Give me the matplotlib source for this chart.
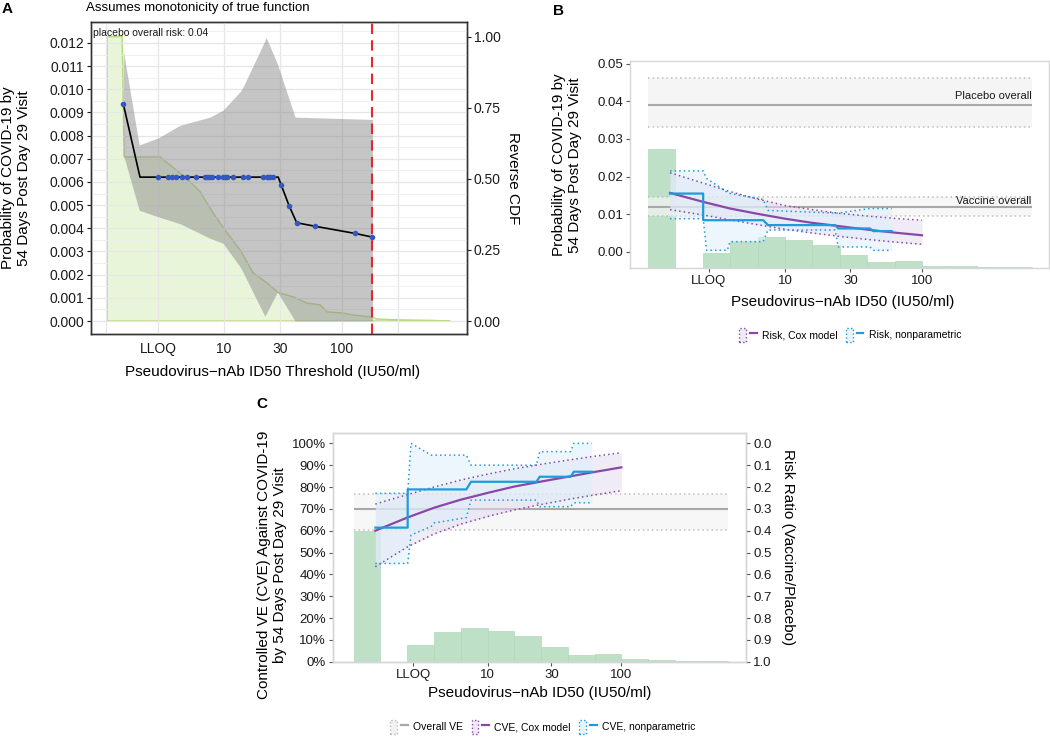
import numpy as np
import matplotlib
matplotlib.use('Agg')
import matplotlib.pyplot as plt
from matplotlib.patches import Patch
from matplotlib.lines import Line2D
from matplotlib.legend_handler import HandlerTuple
from matplotlib.ticker import FixedLocator, NullLocator, FormatStrFormatter, FuncFormatter

plt.rcParams['font.family'] = ['Liberation Sans', 'DejaVu Sans']

# ---------------- data ----------------
LLOQ = 2.78
x_tick_values = [LLOQ, 10, 30, 100]
x_tick_labels = ['LLOQ', '10', '30', '100']
x_grid_a = [1, LLOQ, 10, 30, 100, 300]

# Panel A: threshold risk curve (monotone)
thr_a = [1.40, 1.94, 2.77, 3.37, 3.61, 3.92, 4.38, 4.83, 5.79, 6.91, 7.22, 7.50,
         7.87, 8.95, 9.75, 10.2, 10.5, 12.0, 14.4, 16.1, 21.5, 23.0, 23.7, 24.5,
         25.9, 28.8, 30.4, 35.7, 41.3, 59.0, 129, 181]
risk_a = [0.00938, 0.00621, 0.00621, 0.00621, 0.00621, 0.00621, 0.00621, 0.00621,
          0.00621, 0.00621, 0.00621, 0.00621, 0.00621, 0.00621, 0.00621, 0.00621,
          0.00621, 0.00621, 0.00621, 0.00621, 0.00621, 0.00621, 0.00621, 0.00621,
          0.00621, 0.00621, 0.00589, 0.00496, 0.00424, 0.00409, 0.00378, 0.00362]
corner_idx_a = [1, 25]  # line vertices without a point

band_x_a = [1.40, 1.91, 2.76, 4.24, 7.6, 9.8, 13.7, 14.5, 22.2, 22.7, 28.3, 40.0, 181]
band_hi_a = [0.01168, 0.0076, 0.0079, 0.00845, 0.0088, 0.0091, 0.0099, 0.0101,
             0.0121, 0.01225, 0.0111, 0.0088, 0.0087]
band_lo_a = [0.0072, 0.00478, 0.0045, 0.0042, 0.00357, 0.00336, 0.00233, 0.0021,
             0.0002, 0.0003, 0.00125, 0.0, 0.0]

cdf_x = [1.02, 1.37, 1.42, 2.87, 3.70, 4.86, 6.26, 8.07, 10.6, 13.7, 17.6, 23.1,
         28.7, 38.5, 50.5, 65.1, 74.6, 102, 124, 179, 198, 310, 590, 822]
cdf_y = [1.0, 1.0, 0.577, 0.577, 0.54, 0.50, 0.455, 0.38, 0.31, 0.25, 0.17, 0.134,
         0.10, 0.085, 0.063, 0.057, 0.032, 0.028, 0.021, 0.014, 0.007, 0.004, 0.002, 0.0]
threshold_max = 181
placebo_risk_text = 'placebo overall risk: 0.04'

# Histogram of marker distribution (shared by B and C)
hist_log_edges = [0.0, 0.2, 0.4, 0.6, 0.8, 1.0, 1.2, 1.4, 1.6, 1.8, 2.0, 2.2, 2.4, 2.6, 2.8]
hist_pct = [59.8, 0.0, 7.6, 13.7, 15.6, 14.0, 11.8, 6.7, 3.1, 3.5, 1.2, 0.8, 0.3, 0.3]

# Overall references
overall_x = [1.0, 631.0]
placebo_risk, placebo_lo, placebo_hi = 0.0391, 0.0332, 0.0462
vaccine_risk, vaccine_lo, vaccine_hi = 0.0119, 0.00955, 0.0146
overall_ve, overall_ve_lo, overall_ve_hi = 69.8, 60.3, 76.6

# Cox model
cox_x = [1.45, 2.51, 3.98, 6.31, 10.0, 15.8, 25.1, 39.8, 63.1, 100.0]
cox_risk = [0.01565, 0.0133, 0.0115, 0.0101, 0.0088, 0.0077, 0.0068, 0.0059, 0.0051, 0.0044]
cox_risk_hi = [0.0210, 0.0183, 0.0160, 0.0140, 0.0123, 0.0112, 0.0102, 0.0095, 0.0089, 0.0084]
cox_risk_lo = [0.0112, 0.0098, 0.0085, 0.0072, 0.0060, 0.0050, 0.0041, 0.0033, 0.0026, 0.0020]
cox_cve = [60.0, 66.0, 70.5, 74.2, 77.3, 80.2, 82.5, 84.7, 86.9, 89.0]
cox_cve_hi = [72.2, 76.5, 80.0, 83.2, 85.9, 88.3, 90.4, 92.3, 94.1, 95.7]
cox_cve_lo = [43.5, 52.5, 58.5, 63.0, 66.5, 69.5, 72.0, 74.3, 76.4, 78.3]

# Nonparametric
np_x = [1.45, 2.53, 2.53, 6.94, 7.52, 23.2, 24.5, 41.7, 44.1, 60.1]
np_risk = [0.01548, 0.01548, 0.0084, 0.0084, 0.0071, 0.0071, 0.0062, 0.0062, 0.0055, 0.0055]
np_cve = [61.4, 61.4, 78.9, 78.9, 82.4, 82.4, 84.7, 84.7, 87.0, 87.0]
np_ci_x = [1.45, 2.53, 2.68, 3.8, 3.97, 6.94, 7.52, 23.2, 24.5, 41.7, 44.1, 60.1]
np_risk_hi = [0.0215, 0.0215, 0.0195, 0.0158, 0.0155, 0.0139, 0.0110, 0.0103, 0.0103, 0.0115, 0.0115, 0.0115]
np_risk_lo = [0.0088, 0.0088, 0.0004, 0.0004, 0.0027, 0.0027, 0.0058, 0.0058, 0.0013, 0.0013, 0.0004, 0.0004]
np_cve_hi = [77.1, 77.1, 100.0, 94.6, 94.6, 94.6, 90.0, 90.0, 96.2, 96.2, 100.0, 100.0]
np_cve_lo = [45.0, 45.0, 58.0, 62.0, 63.5, 66.0, 74.0, 74.0, 71.0, 71.0, 72.8, 72.8]

# ---------------- style ----------------
W, H = 1050, 742
PURPLE = '#8B47A8'
BLUE = '#1E9BDA'
GREYLINE = '#A8A8A8'
GREYDOT = '#BDBDBD'
HISTC = '#BEE0C6'
DOT = (0, (1, 2))
TXT = '#1a1a1a'

fig = plt.figure(figsize=(10.5, 7.42), dpi=100)


def box(l, t, r, b):
    return [l / W, 1 - b / H, (r - l) / W, (b - t) / H]


def ftext(x, y, s, **kw):
    return fig.text(x / W, 1 - y / H, s, **kw)


# ================= Panel A =================
axA = fig.add_axes(box(91, 22, 467, 334))
axA2 = axA.twinx()
axA.set_zorder(axA2.get_zorder() + 1)
axA.patch.set_visible(False)

for a in (axA, axA2):
    a.set_xscale('log')
    a.set_xlim(0.746, 1145)
axA.set_ylim(-0.000561, 0.012906)
axA2.set_ylim(-0.0457, 1.0517)

# reverse CDF
axA2.fill(list(cdf_x) + [cdf_x[-1], cdf_x[0]], list(cdf_y) + [0, 0],
          facecolor='#C9E79F', alpha=0.4, edgecolor='none')
axA2.plot(list(cdf_x) + [cdf_x[-1], cdf_x[0], cdf_x[0]], list(cdf_y) + [0, 0, cdf_y[0]],
          color='#B5D97A', lw=1.0)

# grid
axA.set_axisbelow(True)
axA.xaxis.set_major_locator(FixedLocator(x_grid_a))
axA.xaxis.set_minor_locator(NullLocator())
axA.set_xticklabels(['', 'LLOQ', '10', '30', '100', ''])
axA.yaxis.set_major_locator(FixedLocator([i / 1000 for i in range(13)]))
axA.yaxis.set_minor_locator(FixedLocator([i / 1000 + 0.0005 for i in range(13)]))
axA.yaxis.set_major_formatter(FormatStrFormatter('%.3f'))
axA.grid(which='major', color='#E6E6E6', lw=0.9)
axA.grid(which='minor', axis='y', color='#EEEEEE', lw=0.6)
axA.tick_params(which='minor', length=0)

axA.fill_between(band_x_a, band_lo_a, band_hi_a, color='#8C8C8C', alpha=0.5, lw=0, zorder=2)
marks = [i for i in range(len(thr_a)) if i not in corner_idx_a]
axA.plot(thr_a, risk_a, color='black', lw=1.2, zorder=3,
         marker='o', markersize=3.0, markerfacecolor='#3558C0', markeredgecolor='#3558C0',
         markevery=marks)
axA.axvline(threshold_max, color='#E8262B', lw=1.5, ls=(0, (5, 3)), zorder=4)
axA.text(0.006, 0.965, placebo_risk_text, transform=axA.transAxes, fontsize=7.5,
         ha='left', va='center', color=TXT)

axA2.yaxis.set_major_locator(FixedLocator([0, 0.25, 0.5, 0.75, 1.0]))
axA2.yaxis.set_major_formatter(FormatStrFormatter('%.2f'))
for a in (axA, axA2):
    for s in a.spines.values():
        s.set_color('#333333')
        s.set_linewidth(1.0)
    a.tick_params(labelsize=10, colors=TXT, length=3, pad=2)
axA.tick_params(axis='x', length=0, pad=6)

ftext(2, 9, 'A', fontsize=11, fontweight='bold', va='center', ha='left')
ftext(86, 8.5, 'Assumes monotonicity of true function', fontsize=9.5, va='center', ha='left')
ftext(16, 178, 'Probability of COVID-19 by\n54 Days Post Day 29 Visit', fontsize=11,
      rotation=90, ha='center', va='center', linespacing=1.1, multialignment='center')
ftext(513, 178, 'Reverse CDF', fontsize=11, rotation=270, ha='center', va='center')
ftext(272.5, 371.5, 'Pseudovirus\u2212nAb ID50 Threshold (IU50/ml)', fontsize=11,
      ha='center', va='center')

# ================= Panel B =================
hist_left = [10 ** e for e in hist_log_edges[:-1]]
hist_w = [10 ** hist_log_edges[i + 1] - 10 ** hist_log_edges[i] for i in range(len(hist_pct))]

axB = fig.add_axes(box(630, 61, 1049, 268))
axBh = axB.twinx()
axB.set_zorder(axBh.get_zorder() + 1)
axB.patch.set_visible(False)
for a in (axB, axBh):
    a.set_xscale('log')
    a.set_xlim(0.74, 845)
axBh.set_ylim(0, 104.3)
axBh.bar(hist_left, hist_pct, width=hist_w, align='edge', color=HISTC,
         edgecolor='#B3D8BB', lw=0.5)
axBh.set_yticks([])
for s in axBh.spines.values():
    s.set_visible(False)

axB.set_ylim(-0.0043, 0.0507)
# placebo / vaccine overall
axB.fill_between(overall_x, placebo_lo, placebo_hi, color='#F5F5F5', lw=0, zorder=1)
axB.fill_between(overall_x, vaccine_lo, vaccine_hi, color='#F5F5F5', alpha=0.7, lw=0, zorder=1)
for v in (placebo_lo, placebo_hi, vaccine_lo, vaccine_hi):
    axB.hlines(v, overall_x[0], overall_x[1], color=GREYDOT, lw=1.1, ls=DOT, zorder=2)
axB.hlines([placebo_risk, vaccine_risk], overall_x[0], overall_x[1], color=GREYLINE, lw=1.5, zorder=2)
axB.annotate('Placebo overall', xy=(overall_x[1], placebo_risk), xytext=(0, 6),
             textcoords='offset points', ha='right', va='center', fontsize=8, color=TXT)
axB.annotate('Vaccine overall', xy=(overall_x[1], vaccine_risk), xytext=(0, 4.5),
             textcoords='offset points', ha='right', va='center', fontsize=8, color=TXT)

# Cox
axB.fill_between(cox_x, cox_risk_lo, cox_risk_hi, color='#E3DDF0', alpha=0.55, lw=0, zorder=2)
# nonparametric
axB.fill_between(np_ci_x, np_risk_lo, np_risk_hi, color='#DDF0FA', alpha=0.55, lw=0, zorder=2)
axB.plot(cox_x, cox_risk_hi, color=PURPLE, lw=1.1, ls=DOT, zorder=3)
axB.plot(cox_x, cox_risk_lo, color=PURPLE, lw=1.1, ls=DOT, zorder=3)
axB.plot(np_ci_x, np_risk_hi, color=BLUE, lw=1.1, ls=DOT, zorder=3)
axB.plot(np_ci_x, np_risk_lo, color=BLUE, lw=1.1, ls=DOT, zorder=3)
axB.plot(cox_x, cox_risk, color=PURPLE, lw=1.6, zorder=4)
axB.plot(np_x, np_risk, color=BLUE, lw=1.6, zorder=5)

axB.xaxis.set_major_locator(FixedLocator(x_tick_values))
axB.xaxis.set_minor_locator(NullLocator())
axB.set_xticklabels(x_tick_labels)
axB.yaxis.set_major_locator(FixedLocator([0, 0.01, 0.02, 0.03, 0.04, 0.05]))
axB.yaxis.set_major_formatter(FormatStrFormatter('%.2f'))
axB.tick_params(labelsize=9.5, colors=TXT, length=3, pad=2)
axB.tick_params(axis='both', color='#555555')
for s in axB.spines.values():
    s.set_color('#D6D6D6')
    s.set_linewidth(1.0)

ftext(553, 11, 'B', fontsize=11, fontweight='bold', va='center', ha='left')
ftext(567, 165, 'Probability of COVID-19 by\n54 Days Post Day 29 Visit', fontsize=11,
      rotation=90, ha='center', va='center', linespacing=1.2, multialignment='center')
ftext(843, 301.5, 'Pseudovirus\u2212nAb ID50 (IU50/ml)', fontsize=11, ha='center', va='center')

handler = {tuple: HandlerTuple(ndivide=None)}
hB = [(Patch(facecolor='#EEEBF5', edgecolor=PURPLE, ls=':', lw=1.0), Line2D([], [], color=PURPLE, lw=1.6)),
      (Patch(facecolor='#E8F4FB', edgecolor=BLUE, ls=':', lw=1.0), Line2D([], [], color=BLUE, lw=1.6))]
fig.legend(hB, ['Risk, Cox model', 'Risk, nonparametric'], loc='center',
           bbox_to_anchor=(850 / W, 1 - 335 / H), ncol=2, frameon=False,
           handler_map=handler, fontsize=7.5, handlelength=1.7, handleheight=1.7,
           columnspacing=0.8, handletextpad=0.5)

# ================= Panel C =================
axC = fig.add_axes(box(333, 433.3, 746.4, 661.7))
axC.set_xscale('log')
axC.set_xlim(0.70, 859)
axC.set_ylim(0, 104.6)
axC.bar(hist_left, hist_pct, width=hist_w, align='edge', color=HISTC,
        edgecolor='#B3D8BB', lw=0.5, zorder=1)
axC.fill_between(overall_x, overall_ve_lo, overall_ve_hi, color='#F5F5F5', alpha=0.8, lw=0, zorder=1.5)
for v in (overall_ve_lo, overall_ve_hi):
    axC.hlines(v, overall_x[0], overall_x[1], color=GREYDOT, lw=1.1, ls=DOT, zorder=2)
axC.hlines(overall_ve, overall_x[0], overall_x[1], color=GREYLINE, lw=1.5, zorder=2)

axC.fill_between(cox_x, cox_cve_lo, cox_cve_hi, color='#E3DDF0', alpha=0.55, lw=0, zorder=2)
axC.fill_between(np_ci_x, np_cve_lo, np_cve_hi, color='#DDF0FA', alpha=0.55, lw=0, zorder=2)
axC.plot(cox_x, cox_cve_hi, color=PURPLE, lw=1.1, ls=DOT, zorder=3)
axC.plot(cox_x, cox_cve_lo, color=PURPLE, lw=1.1, ls=DOT, zorder=3)
axC.plot(np_ci_x, np_cve_hi, color=BLUE, lw=1.1, ls=DOT, zorder=3)
axC.plot(np_ci_x, np_cve_lo, color=BLUE, lw=1.1, ls=DOT, zorder=3)
axC.plot(cox_x, cox_cve, color=PURPLE, lw=1.6, zorder=4)
axC.plot(np_x, np_cve, color=BLUE, lw=1.6, zorder=5)

axC.xaxis.set_major_locator(FixedLocator(x_tick_values))
axC.xaxis.set_minor_locator(NullLocator())
axC.set_xticklabels(x_tick_labels)
axC.yaxis.set_major_locator(FixedLocator(list(range(0, 101, 10))))
axC.yaxis.set_major_formatter(FuncFormatter(lambda v, p: f'{v:.0f}%'))
axC.tick_params(labelsize=9.5, colors=TXT, length=3, pad=2)
axC.tick_params(axis='both', color='#555555')

axC2 = axC.twinx()
axC2.set_ylim(1.0, 1 - 1.046)
axC2.yaxis.set_major_locator(FixedLocator([i / 10 for i in range(11)]))
axC2.yaxis.set_major_formatter(FormatStrFormatter('%.1f'))
axC2.tick_params(labelsize=9.5, colors=TXT, length=3, pad=2)
axC2.tick_params(axis='y', color='#555555')
for a in (axC, axC2):
    for s in a.spines.values():
        s.set_color('#D6D6D6')
        s.set_linewidth(1.0)

ftext(256, 404, 'C', fontsize=11, fontweight='bold', va='center', ha='left')
ftext(272, 565, 'Controlled VE (CVE) Against COVID-19\nby 54 Days Post Day 29 Visit', fontsize=11,
      rotation=90, ha='center', va='center', linespacing=1.2, multialignment='center')
ftext(788, 547, 'Risk Ratio (Vaccine/Placebo)', fontsize=11, rotation=270, ha='center', va='center')
ftext(540, 693, 'Pseudovirus\u2212nAb ID50 (IU50/ml)', fontsize=11, ha='center', va='center')

hC = [(Patch(facecolor='#F2F2F2', edgecolor=GREYDOT, ls=':', lw=1.0), Line2D([], [], color=GREYLINE, lw=1.6)),
      (Patch(facecolor='#EEEBF5', edgecolor=PURPLE, ls=':', lw=1.0), Line2D([], [], color=PURPLE, lw=1.6)),
      (Patch(facecolor='#E8F4FB', edgecolor=BLUE, ls=':', lw=1.0), Line2D([], [], color=BLUE, lw=1.6))]
fig.legend(hC, ['Overall VE', 'CVE, Cox model', 'CVE, nonparametric'], loc='center',
           bbox_to_anchor=(543 / W, 1 - 727 / H), ncol=3, frameon=False,
           handler_map=handler, fontsize=7.5, handlelength=1.7, handleheight=1.7,
           columnspacing=0.8, handletextpad=0.5)

fig.savefig('out.png', dpi=100)
